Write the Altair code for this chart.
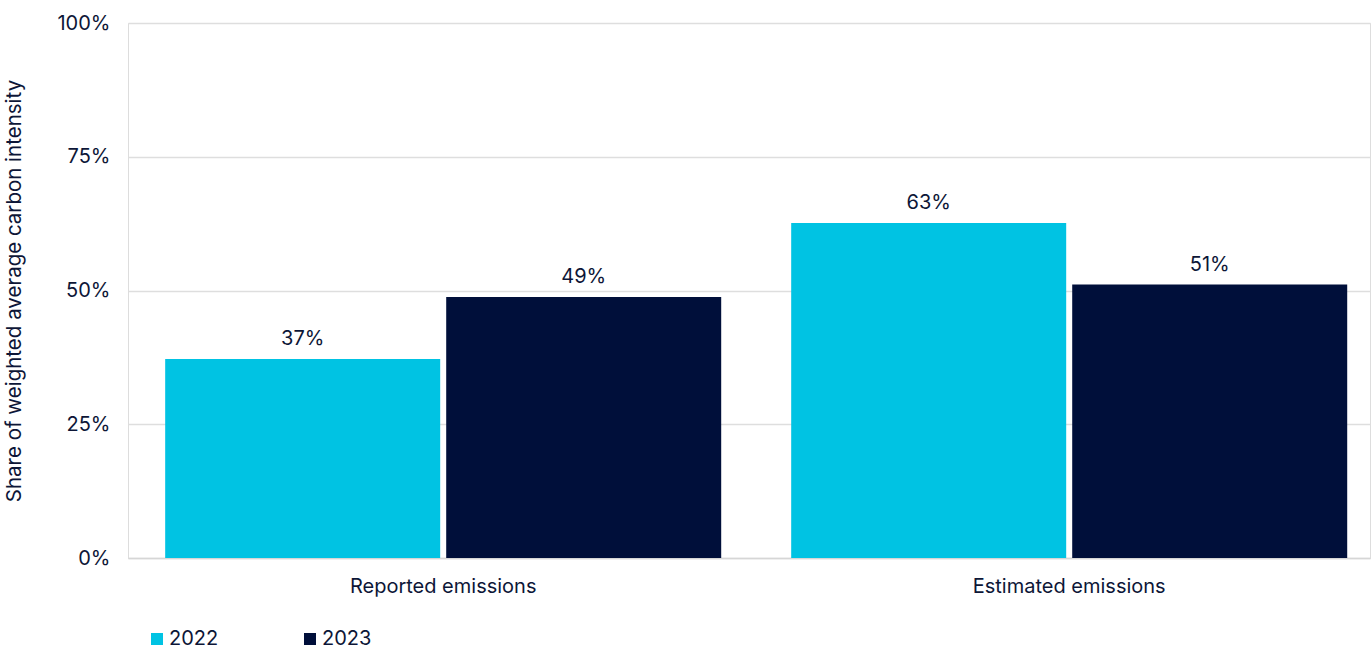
import altair as alt
import pandas as pd

categories = ["Reported emissions", "Reported emissions", "Estimated emissions", "Estimated emissions"]
years = ["2022", "2023", "2022", "2023"]
values = [0.372, 0.488, 0.626, 0.511]
labels = ["37%", "49%", "63%", "51%"]

df = pd.DataFrame({"category": categories, "year": years, "value": values, "label": labels})

FONT = "Inter"
TXT = "#0d1637"
FS = 20
cat_order = ["Reported emissions", "Estimated emissions"]
color = alt.Color("year:N", scale=alt.Scale(domain=["2022", "2023"], range=["#00c3e3", "#000f3a"]),
                  legend=alt.Legend(title=None, orient="none", legendX=19, legendY=606, direction="horizontal",
                                    symbolType="square", symbolSize=144, symbolStrokeWidth=0,
                                    labelFontSize=FS, labelColor=TXT, labelFont=FONT, columnPadding=81,
                                    symbolOffset=0, labelOffset=2))

xenc = alt.X("category:N", sort=cat_order, title=None,
             scale=alt.Scale(paddingInner=0.1118, paddingOuter=0.0479, align=0.62),
             axis=alt.Axis(labelAngle=0, labelFontSize=FS, labelColor=TXT, labelFont=FONT, labelPadding=18,
                           labelLimit=0, ticks=False, domainColor="#d6d6d6", domainWidth=1.5, grid=False))
xoff = alt.XOffset("year:N", scale=alt.Scale(paddingInner=0.0214, paddingOuter=0))

bars = alt.Chart(df).mark_bar().encode(
    x=xenc, xOffset=xoff,
    y=alt.Y("value:Q", scale=alt.Scale(domain=[0, 1]), title="Share of weighted average carbon intensity",
            axis=alt.Axis(format="%", values=[0, 0.25, 0.5, 0.75, 1], labelFontSize=FS, labelColor=TXT,
                          labelFont=FONT, labelPadding=18, ticks=False, domain=False, gridColor="#dedede",
                          gridWidth=1.5, titleFontSize=20.5, titleFont=FONT, titleColor=TXT,
                          titleFontWeight="normal", titlePadding=32)),
    color=color,
)

text = alt.Chart(df).mark_text(baseline="bottom", dy=-10, fontSize=FS, font=FONT, color=TXT).encode(
    x=alt.X("category:N", sort=cat_order), xOffset=xoff, y="value:Q", text="label:N"
)

chart = (bars + text).properties(
    width=1242, height=535, autosize=alt.AutoSizeParams(type="none"),
    padding={"left": 128, "top": 23, "right": 1, "bottom": 95}
).configure_view(stroke=None).configure(background="white")

chart.save("out.html", embed_options={"renderer": "svg", "actions": False})
